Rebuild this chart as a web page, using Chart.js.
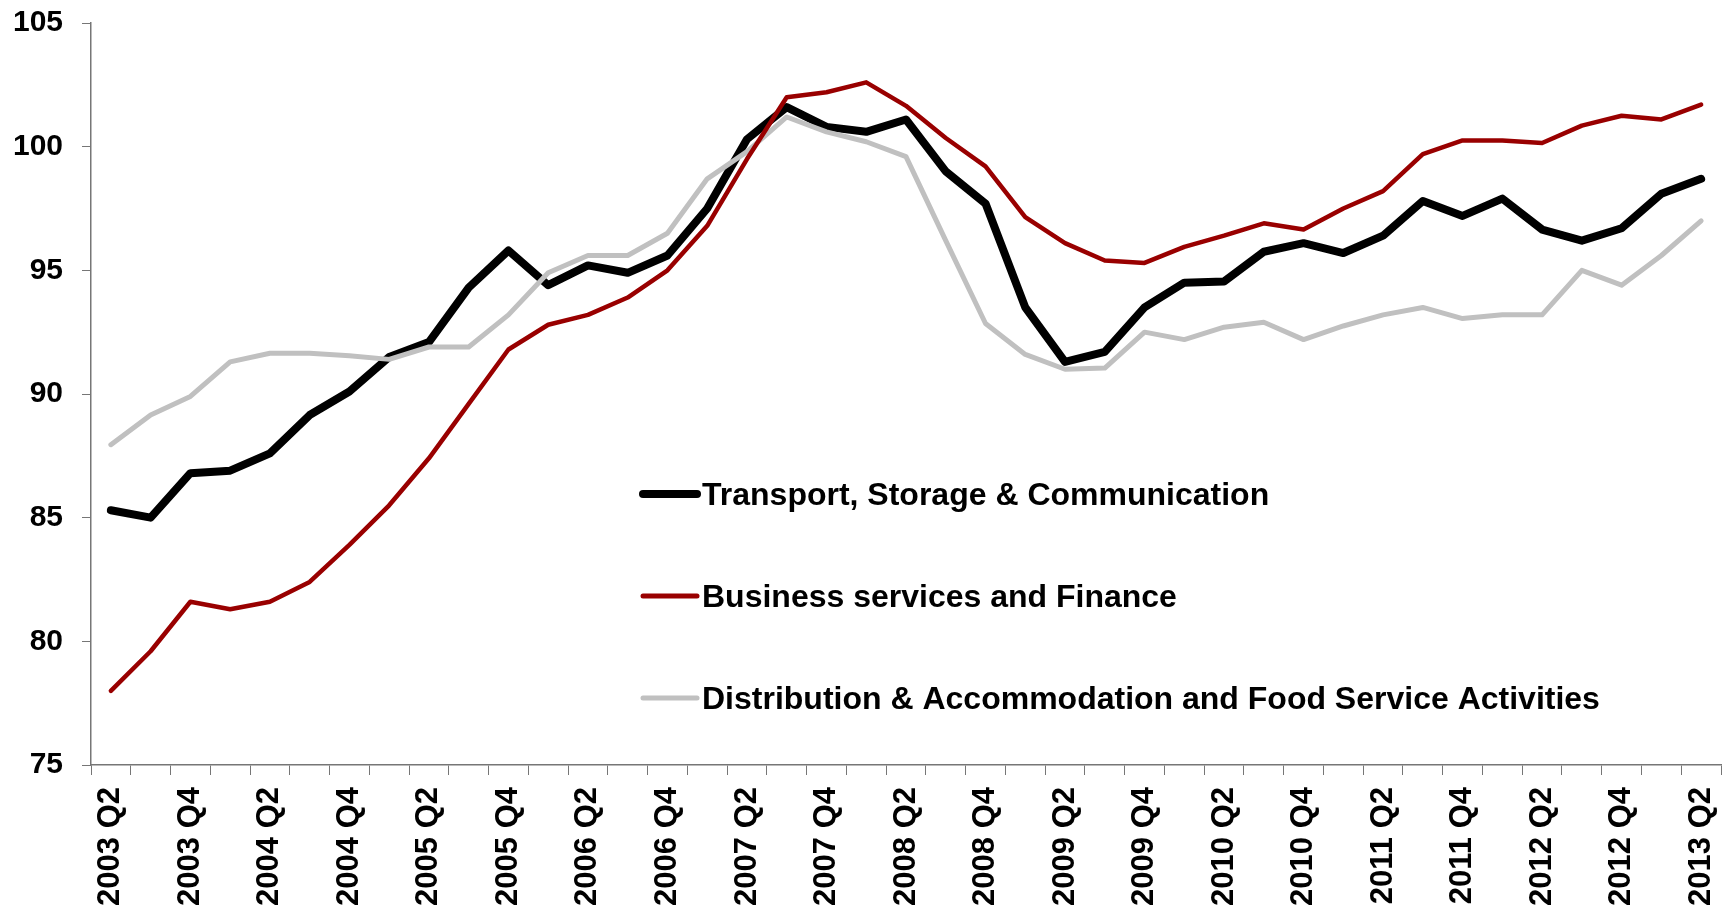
<!DOCTYPE html>
<html lang="en">
<head>
  <meta charset="UTF-8" />
  <title>Output by sector</title>
  <script src="https://cdn.jsdelivr.net/npm/chart.js"></script>
  <style>
    html, body { margin: 0; padding: 0; background: #fff; }
    #wrap { width: 1730px; height: 908px; position: relative; }
  </style>
</head>
<body>
  <div id="wrap"><canvas id="chart"></canvas></div>
  <script>
    // quarters 2003 Q2 .. 2013 Q2
    const quarters = [
      '2003 Q2', '2003 Q3', '2003 Q4',
      '2004 Q1', '2004 Q2', '2004 Q3', '2004 Q4',
      '2005 Q1', '2005 Q2', '2005 Q3', '2005 Q4',
      '2006 Q1', '2006 Q2', '2006 Q3', '2006 Q4',
      '2007 Q1', '2007 Q2', '2007 Q3', '2007 Q4',
      '2008 Q1', '2008 Q2', '2008 Q3', '2008 Q4',
      '2009 Q1', '2009 Q2', '2009 Q3', '2009 Q4',
      '2010 Q1', '2010 Q2', '2010 Q3', '2010 Q4',
      '2011 Q1', '2011 Q2', '2011 Q3', '2011 Q4',
      '2012 Q1', '2012 Q2', '2012 Q3', '2012 Q4',
      '2013 Q1', '2013 Q2'
    ];

    const transport = [
      85.3, 85.0, 86.8, 86.9, 87.6, 89.15, 90.1,
      91.5, 92.1, 94.3, 95.8, 94.4, 95.2, 94.9, 95.6,
      97.5, 100.3, 101.6, 100.8, 100.6, 101.1, 99.0, 97.7,
      93.5, 91.3, 91.7, 93.5, 94.5, 94.55, 95.75, 96.1,
      95.7, 96.4, 97.8, 97.2, 97.9, 96.65, 96.2, 96.7,
      98.1, 98.7
    ];

    const business = [
      78.0, 79.6, 81.6, 81.3, 81.6, 82.4, 83.9,
      85.5, 87.4, 89.6, 91.8, 92.8, 93.2, 93.9, 95.0,
      96.8, 99.5, 102.0, 102.2, 102.6, 101.65, 100.35, 99.2,
      97.15, 96.1, 95.4, 95.3, 95.95, 96.4, 96.9, 96.65,
      97.5, 98.2, 99.7, 100.25, 100.25, 100.15, 100.85, 101.25,
      101.1, 101.7
    ];

    const distribution = [
      87.95, 89.15, 89.9, 91.3, 91.65, 91.65, 91.55,
      91.4, 91.9, 91.9, 93.2, 94.9, 95.6, 95.6, 96.5,
      98.7, 99.8, 101.2, 100.6, 100.2, 99.6, 96.2, 92.85,
      91.6, 91.0, 91.05, 92.5, 92.2, 92.7, 92.9, 92.2,
      92.75, 93.2, 93.5, 93.05, 93.2, 93.2, 95.0, 94.4,
      95.6, 97.0
    ];

    const seriesNames = [
      'Transport, Storage & Communication',
      'Business services and Finance',
      'Distribution & Accommodation and Food Service Activities'
    ];

    const yTicks = [75, 80, 85, 90, 95, 100, 105];

    const fontFamily = '"Liberation Sans", Arial, sans-serif';
    const axisGray = '#767676';

    // legend drawn inside the plot, like the original
    const insideLegend = {
      id: 'insideLegend',
      afterDatasetsDraw(chart) {
        const ctx = chart.ctx;
        const area = chart.chartArea;
        const x0 = area.left + 549;
        const y0 = area.top + 471;
        const step = 102;
        ctx.save();
        chart.data.datasets.forEach((ds, i) => {
          const y = y0 + i * step;
          ctx.beginPath();
          ctx.strokeStyle = ds.borderColor;
          ctx.lineWidth = ds.legendWidth;
          ctx.lineCap = 'round';
          ctx.moveTo(x0 + 3, y);
          ctx.lineTo(x0 + 57, y);
          ctx.stroke();
          ctx.fillStyle = '#000';
          ctx.font = 'bold 32px ' + fontFamily;
          ctx.textBaseline = 'alphabetic';
          ctx.textAlign = 'left';
          ctx.fillText(ds.label, x0 + 62, y + 11);
        });
        ctx.restore();
      }
    };

    new Chart(document.getElementById('chart'), {
      type: 'line',
      data: {
        labels: quarters,
        datasets: [
          {
            label: seriesNames[0],
            data: transport,
            borderColor: '#000000',
            borderWidth: 8,
            legendWidth: 8,
            order: 2
          },
          {
            label: seriesNames[1],
            data: business,
            borderColor: '#990000',
            borderWidth: 4.5,
            legendWidth: 5,
            order: 0
          },
          {
            label: seriesNames[2],
            data: distribution,
            borderColor: '#c0c0c0',
            borderWidth: 5,
            legendWidth: 5,
            order: 1
          }
        ].map(ds => Object.assign({
          fill: false,
          tension: 0,
          pointRadius: 0,
          pointHoverRadius: 0,
          borderCapStyle: 'round',
          borderJoinStyle: 'round'
        }, ds))
      },
      options: {
        responsive: true,
        maintainAspectRatio: false,
        animation: false,
        events: [],
        layout: { padding: { top: 23, right: 9, left: 0, bottom: 0 } },
        plugins: {
          legend: { display: false },
          tooltip: { enabled: false }
        },
        scales: {
          x: {
            type: 'category',
            offset: true,
            grid: {
              offset: true,
              drawOnChartArea: false,
              drawTicks: true,
              tickLength: 10,
              color: axisGray,
              lineWidth: 1
            },
            border: { display: true, color: axisGray, width: 1.5 },
            ticks: {
              autoSkip: false,
              maxRotation: 90,
              minRotation: 90,
              padding: 12,
              color: '#000',
              font: { family: fontFamily, size: 31, weight: 'bold', lineHeight: 1 },
              callback: function (val, i) {
                return i % 2 === 0 ? quarters[i] : '';
              }
            },
            afterFit(scale) {
              scale.height = 143;
              scale.paddingLeft = 0;
              scale.paddingRight = 0;
            }
          },
          y: {
            min: yTicks[0],
            max: yTicks[yTicks.length - 1],
            afterBuildTicks(scale) {
              scale.ticks = yTicks.map(v => ({ value: v }));
            },
            grid: {
              drawOnChartArea: false,
              drawTicks: true,
              tickLength: 9,
              color: axisGray,
              lineWidth: 1
            },
            border: { display: true, color: axisGray, width: 1.5 },
            ticks: {
              padding: 19,
              color: '#000',
              font: { family: fontFamily, size: 30, weight: 'bold' }
            },
            afterFit(scale) {
              scale.width = 91;
              scale.paddingTop = 0;
              scale.paddingBottom = 0;
            }
          }
        }
      },
      plugins: [insideLegend]
    });
  </script>
</body>
</html>
